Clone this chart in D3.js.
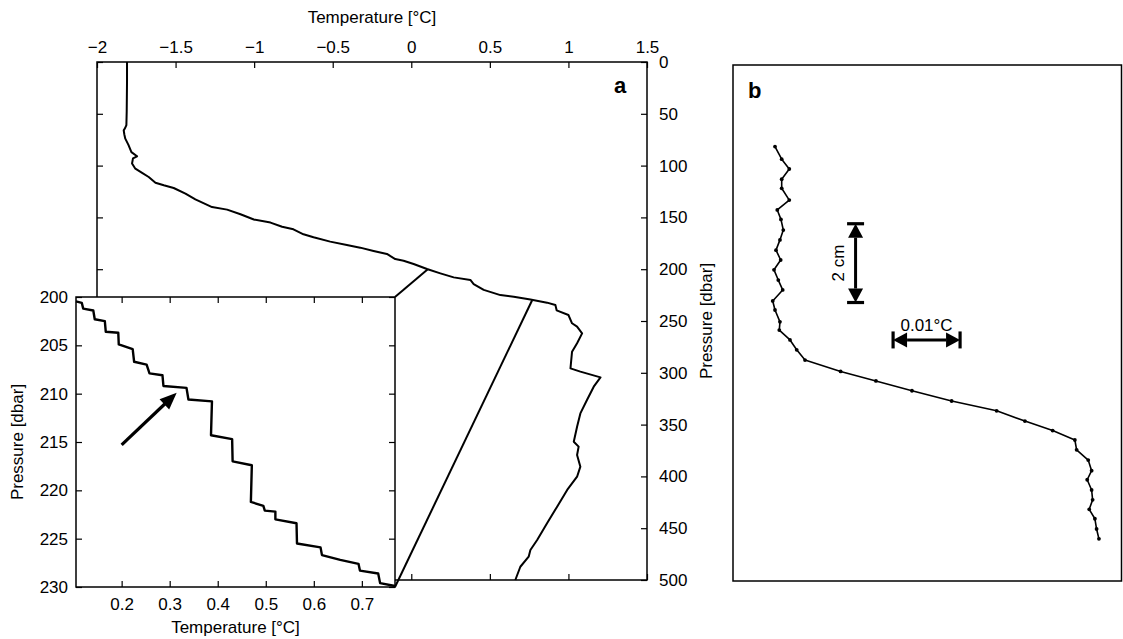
<!DOCTYPE html>
<html><head><meta charset="utf-8">
<script src="https://cdn.jsdelivr.net/npm/d3@7"></script>
<style>
body{margin:0;background:#fff}
svg{display:block}
text{font-family:"Liberation Sans",Arial,Helvetica,sans-serif;fill:#000}
</style>
</head><body>
<svg id="c" width="1123" height="639"></svg>
<script>
// ---------- Panel a: full profile ----------
const mainPressure = [0,19,48,61,64,66,70,74,80,87,91,93,98,103,107,111,116.5,119,121.6,127,132.6,140,142.5,147,152,155,159,161.5,166.3,169.2,173.4,176.6,179.2,182.4,185.3,190.2,191.8,195,199.8,204,207.9,210.4,214.3,220,225,226.5,229.3,232.3,234.6,239.7,244.2,252.2,255.4,261.9,271.5,279.6,295.7,298.9,304.4,313.4,326.3,339.2,352,366.5,371.3,379.4,390.6,400.3,413.1,429.2,445.3,461.4,471,477.5,487.2,500];
const mainTemp = [-1.809,-1.809,-1.811,-1.813,-1.822,-1.830,-1.826,-1.820,-1.800,-1.781,-1.745,-1.771,-1.777,-1.756,-1.713,-1.671,-1.628,-1.575,-1.512,-1.437,-1.374,-1.268,-1.172,-1.087,-1.002,-0.896,-0.822,-0.750,-0.686,-0.622,-0.516,-0.410,-0.325,-0.240,-0.155,-0.102,-0.049,0.015,0.100,0.185,0.270,0.376,0.397,0.461,0.567,0.652,0.758,0.864,0.917,0.925,1.000,1.023,1.055,1.087,1.055,1.023,1.013,1.076,1.204,1.161,1.118,1.076,1.055,1.034,1.065,1.055,1.076,1.055,0.992,0.928,0.864,0.801,0.758,0.747,0.694,0.662];
const mainTempTicks = [-2,-1.5,-1,-0.5,0,0.5,1,1.5];
const mainPressureTicks = [0,50,100,150,200,250,300,350,400,450,500];

// ---------- Panel a inset: 200-230 dbar zoom ----------
const insetPressure = [200.45,200.6,201.2,201.4,202.3,202.5,203.6,203.7,204.9,205.4,206.7,207.0,207.9,208.1,209.2,209.4,210.6,210.8,214.3,214.7,217.0,217.4,221.2,221.6,222.1,222.2,223.0,223.4,225.5,225.9,226.7,227.2,227.6,228.3,228.6,229.6,229.9];
const insetTemp = [0.105,0.117,0.120,0.141,0.144,0.165,0.167,0.193,0.194,0.223,0.226,0.252,0.258,0.285,0.287,0.335,0.339,0.388,0.386,0.430,0.431,0.471,0.469,0.495,0.498,0.520,0.520,0.564,0.565,0.614,0.617,0.655,0.693,0.696,0.734,0.738,0.769];
const insetTempTicks = [0.2,0.3,0.4,0.5,0.6,0.7];
const insetPressureTicks = [200,205,210,215,220,225,230];
const insetTempRange = [0.105,0.769];
const insetPressureRange = [200,230];
const arrowFrom = [0.2,215.3];   // [T, p]
const arrowTo = [0.3146,209.9];

// ---------- Panel b: cm-scale profile (temperature in mK, depth in cm) ----------
const bTempMilliK = [6.27,7.27,8.40,7.27,7.27,8.40,6.61,7.16,7.51,7.01,6.42,7.12,6.12,6.76,7.42,5.93,6.27,7.01,6.91,8.51,9.51,10.75,16.07,21.34,26.72,32.64,39.36,43.58,47.72,51.04,51.30,53.03,53.54,52.88,53.54,53.69,53.18,54.03,54.28,54.63];
const bDepthCm = [2.07,2.39,2.64,2.90,3.13,3.43,3.68,3.92,4.19,4.44,4.70,4.95,5.20,5.46,5.71,5.99,6.22,6.52,6.73,6.98,7.23,7.49,7.78,8.02,8.27,8.53,8.78,9.04,9.28,9.52,9.77,10.03,10.30,10.53,10.79,11.04,11.28,11.52,11.78,12.03];
const bScaleDepth = {x:18.3, from:4.03, to:6.03, label:"2 cm"};
const bScaleTemp = {y:6.98, from:23.9, to:33.9, label:"0.01°C"};

// ================= drawing =================
const svg = d3.select("#c");
const FS = 17;

// ---- panel a main ----
const A = {l:97, r:647, t:62, b:580};
const xMain = d3.scaleLinear().domain([-2,1.5]).range([A.l,A.r]);
const yMain = d3.scaleLinear().domain([0,500]).range([A.t,A.b]);
const fmt = d3.format("~g");

function styleAxis(g){
  g.select(".domain").remove();
  g.attr("font-family",null).attr("font-size",FS);
  g.selectAll("line").attr("stroke","#000").attr("stroke-width",1.2);
  g.selectAll("text").attr("fill","#000");
}

svg.append("g").attr("transform",`translate(0,${A.t})`)
  .call(d3.axisTop(xMain).tickValues(mainTempTicks).tickFormat(fmt).tickSize(-6).tickPadding(9)).call(styleAxis);
svg.append("g").attr("transform",`translate(0,${A.b})`)
  .call(d3.axisBottom(xMain).tickValues(mainTempTicks).tickFormat("").tickSize(-6)).call(styleAxis);
svg.append("g").attr("transform",`translate(${A.r},0)`)
  .call(d3.axisRight(yMain).tickValues(mainPressureTicks).tickFormat(fmt).tickSize(-6).tickPadding(12)).call(styleAxis);
svg.append("g").attr("transform",`translate(${A.l},0)`)
  .call(d3.axisLeft(yMain).tickValues(mainPressureTicks).tickFormat("").tickSize(-6)).call(styleAxis);

svg.append("rect").attr("x",A.l).attr("y",A.t).attr("width",A.r-A.l).attr("height",A.b-A.t)
  .attr("fill","none").attr("stroke","#000").attr("stroke-width",1.5);

const mainData = mainPressure.map((p,i)=>({p, t:mainTemp[i]}));
svg.append("path").datum(mainData)
  .attr("d", d3.line().x(d=>xMain(d.t)).y(d=>yMain(d.p)))
  .attr("fill","none").attr("stroke","#000").attr("stroke-width",2).attr("stroke-linejoin","round");

svg.append("text").attr("x",(A.l+A.r)/2).attr("y",23).attr("text-anchor","middle").attr("font-size",FS).text("Temperature [°C]");
svg.append("text").attr("transform",`translate(712,${yMain(250)}) rotate(-90)`).attr("text-anchor","middle").attr("font-size",FS).text("Pressure [dbar]");
svg.append("text").attr("x",620).attr("y",93).attr("text-anchor","middle").attr("font-size",22).attr("font-weight","bold").text("a");

// ---- inset ----
const I = {l:76, r:395, t:297, b:587};
const xIn = d3.scaleLinear().domain(insetTempRange).range([I.l,I.r]);
const yIn = d3.scaleLinear().domain(insetPressureRange).range([I.t,I.b]);

svg.append("line").attr("x1",I.r).attr("y1",I.t).attr("x2",xMain(insetTempRange[0])).attr("y2",yMain(insetPressureRange[0]))
  .attr("stroke","#000").attr("stroke-width",2);
svg.append("line").attr("x1",I.r).attr("y1",I.b).attr("x2",xMain(insetTempRange[1])).attr("y2",yMain(insetPressureRange[1]))
  .attr("stroke","#000").attr("stroke-width",2);

svg.append("rect").attr("x",I.l).attr("y",I.t).attr("width",I.r-I.l).attr("height",I.b-I.t)
  .attr("fill","#fff").attr("stroke","none");

svg.append("g").attr("transform",`translate(0,${I.b})`)
  .call(d3.axisBottom(xIn).tickValues(insetTempTicks).tickFormat(fmt).tickSize(-6).tickPadding(11)).call(styleAxis);
svg.append("g").attr("transform",`translate(0,${I.t})`)
  .call(d3.axisTop(xIn).tickValues(insetTempTicks).tickFormat("").tickSize(-6)).call(styleAxis);
svg.append("g").attr("transform",`translate(${I.l},0)`)
  .call(d3.axisLeft(yIn).tickValues(insetPressureTicks).tickFormat(fmt).tickSize(-6).tickPadding(8)).call(styleAxis);
svg.append("g").attr("transform",`translate(${I.r},0)`)
  .call(d3.axisRight(yIn).tickValues(insetPressureTicks).tickFormat("").tickSize(-6)).call(styleAxis);

svg.append("rect").attr("x",I.l).attr("y",I.t).attr("width",I.r-I.l).attr("height",I.b-I.t)
  .attr("fill","none").attr("stroke","#000").attr("stroke-width",1.5);

const insetData = insetPressure.map((p,i)=>({p, t:insetTemp[i]}));
svg.append("path").datum(insetData)
  .attr("d", d3.line().x(d=>xIn(d.t)).y(d=>yIn(d.p)))
  .attr("fill","none").attr("stroke","#000").attr("stroke-width",2.4).attr("stroke-linejoin","round");

(function(){
  const x1=xIn(arrowFrom[0]), y1=yIn(arrowFrom[1]), x2=xIn(arrowTo[0]), y2=yIn(arrowTo[1]);
  const dx=x2-x1, dy=y2-y1, L=Math.hypot(dx,dy), ux=dx/L, uy=dy/L;
  const hl=17, hw=7;
  const bx=x2-ux*hl, by=y2-uy*hl;
  svg.append("line").attr("x1",x1).attr("y1",y1).attr("x2",bx+ux*2).attr("y2",by+uy*2)
    .attr("stroke","#000").attr("stroke-width",3.2);
  svg.append("path").attr("d",`M${x2},${y2}L${bx-uy*hw},${by+ux*hw}L${bx+uy*hw},${by-ux*hw}Z`).attr("fill","#000");
})();

svg.append("text").attr("x",(I.l+I.r)/2).attr("y",633).attr("text-anchor","middle").attr("font-size",FS).text("Temperature [°C]");
svg.append("text").attr("transform",`translate(23,${(I.t+I.b)/2}) rotate(-90)`).attr("text-anchor","middle").attr("font-size",FS).text("Pressure [dbar]");

// ---- panel b ----
const B = {l:733, r:1121.5, t:65, b:581};
const xB = d3.scaleLinear().domain([0,58]).range([B.l,B.r]);
const yB = d3.scaleLinear().domain([0,13.1]).range([B.t,B.b]);

svg.append("rect").attr("x",B.l).attr("y",B.t).attr("width",B.r-B.l).attr("height",B.b-B.t)
  .attr("fill","none").attr("stroke","#000").attr("stroke-width",1.5);
svg.append("text").attr("x",748).attr("y",98).attr("font-size",22).attr("font-weight","bold").text("b");

const bData = bDepthCm.map((d,i)=>({d, t:bTempMilliK[i]}));
svg.append("path").datum(bData)
  .attr("d", d3.line().x(d=>xB(d.t)).y(d=>yB(d.d)))
  .attr("fill","none").attr("stroke","#000").attr("stroke-width",1.6).attr("stroke-linejoin","round");
svg.append("g").selectAll("circle").data(bData).join("circle")
  .attr("cx",d=>xB(d.t)).attr("cy",d=>yB(d.d)).attr("r",1.9).attr("fill","#000");

function doubleArrow(x1,y1,x2,y2){
  const g = svg.append("g");
  const dx=x2-x1, dy=y2-y1, L=Math.hypot(dx,dy), ux=dx/L, uy=dy/L;
  const hl=14, hw=7.5, cw=8.5;
  g.append("line").attr("x1",x1+ux*hl).attr("y1",y1+uy*hl).attr("x2",x2-ux*hl).attr("y2",y2-uy*hl)
    .attr("stroke","#000").attr("stroke-width",3);
  [[x1,y1,1],[x2,y2,-1]].forEach(([x,y,s])=>{
    const bx=x+s*ux*hl, by=y+s*uy*hl;
    g.append("path").attr("d",`M${x},${y}L${bx-uy*hw},${by+ux*hw}L${bx+uy*hw},${by-ux*hw}Z`).attr("fill","#000");
    g.append("line").attr("x1",x-uy*cw).attr("y1",y+ux*cw).attr("x2",x+uy*cw).attr("y2",y-ux*cw)
      .attr("stroke","#000").attr("stroke-width",3.2);
  });
}
doubleArrow(xB(bScaleDepth.x), yB(bScaleDepth.from), xB(bScaleDepth.x), yB(bScaleDepth.to));
doubleArrow(xB(bScaleTemp.from), yB(bScaleTemp.y), xB(bScaleTemp.to), yB(bScaleTemp.y));

svg.append("text").attr("transform",`translate(${xB(bScaleDepth.x)-12},${(yB(bScaleDepth.from)+yB(bScaleDepth.to))/2}) rotate(-90)`)
  .attr("text-anchor","middle").attr("font-size",FS).text(bScaleDepth.label);
svg.append("text").attr("x",(xB(bScaleTemp.from)+xB(bScaleTemp.to))/2).attr("y",yB(bScaleTemp.y)-9)
  .attr("text-anchor","middle").attr("font-size",FS).text(bScaleTemp.label);
</script>
</body></html>
